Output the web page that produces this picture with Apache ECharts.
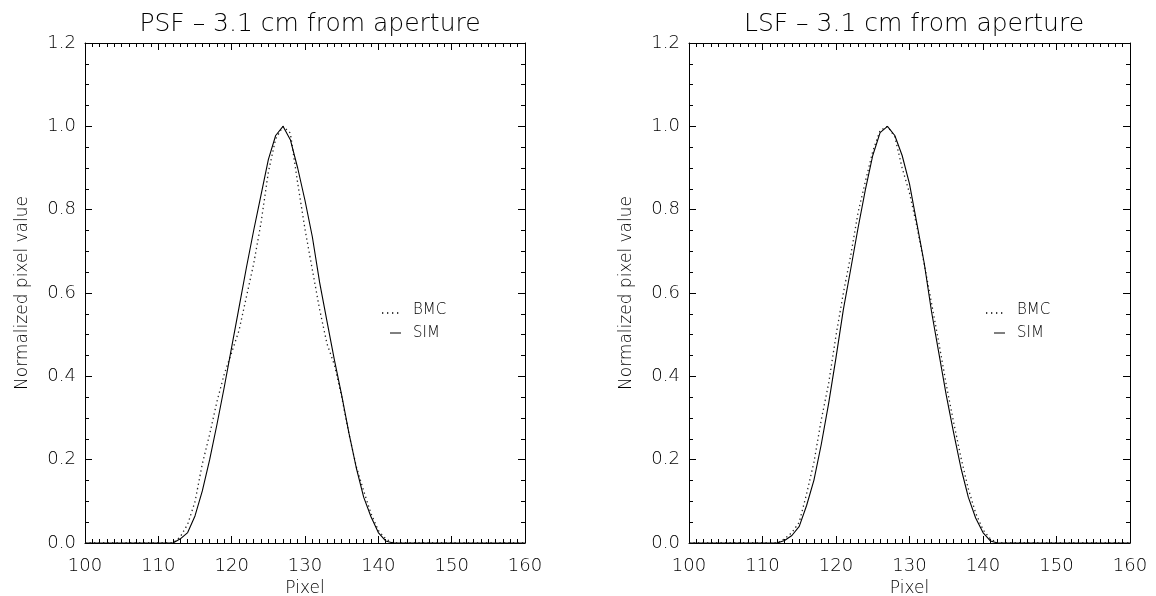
<!DOCTYPE html>
<html>
<head>
<meta charset="utf-8">
<script src="https://cdn.jsdelivr.net/npm/echarts@6/dist/echarts.min.js"></script>
<style>
  html, body { margin: 0; padding: 0; background: #fff; }
  #chart_container { width: 1156px; height: 596px; }
</style>
</head>
<body>
<div id="chart_container"></div>
<script>
"use strict";

// values
const pixels = [100, 111, 112, 113, 114, 115, 116, 117, 118, 119, 120, 121, 122, 123, 124, 125, 126,
    127, 128, 129, 130, 131, 132, 133, 134, 135, 136, 137, 138, 139, 140, 141, 142, 160];

const psfSim = [0, 0, 0, 0.01, 0.025, 0.065, 0.125, 0.2, 0.285, 0.375, 0.47, 0.565, 0.66, 0.75, 0.835, 0.92, 0.978,
    1.0, 0.968, 0.9, 0.822, 0.735, 0.625, 0.532, 0.44, 0.355, 0.263, 0.18, 0.11, 0.063, 0.025, 0.005, 0, 0];
const psfBmc = [0, 0, 0, 0.015, 0.045, 0.099, 0.19, 0.261, 0.34, 0.406, 0.457, 0.51, 0.59, 0.67, 0.768, 0.89, 0.97,
    1.0, 0.984, 0.864, 0.753, 0.656, 0.56, 0.478, 0.428, 0.351, 0.261, 0.183, 0.125, 0.071, 0.03, 0.01, 0, 0];

const lsfSim = [0, 0, 0, 0.006, 0.018, 0.04, 0.09, 0.151, 0.237, 0.335, 0.445, 0.56, 0.657, 0.756, 0.848, 0.93, 0.985,
    1.0, 0.978, 0.93, 0.862, 0.767, 0.672, 0.555, 0.455, 0.355, 0.265, 0.18, 0.11, 0.06, 0.025, 0.005, 0, 0];
const lsfBmc = [0, 0, 0, 0.01, 0.025, 0.05, 0.118, 0.194, 0.296, 0.383, 0.498, 0.6, 0.69, 0.793, 0.868, 0.94, 0.99,
    1.0, 0.975, 0.9, 0.84, 0.76, 0.67, 0.575, 0.48, 0.38, 0.29, 0.205, 0.13, 0.072, 0.032, 0.01, 0, 0];

const titles = ["PSF \u2013 3.1 cm from aperture", "LSF \u2013 3.1 cm from aperture"];
const legendNames = ["BMC", "SIM"];

const FONT = "DejaVu Sans";
const INK = "#000";

let pts = (ys) => pixels.map((x, i) => [x, ys[i]]);

let xAx = (g, pos) => ({
    gridIndex: g, type: "value", position: pos, min: 100, max: 160, interval: 10,
    axisLine: { show: true, onZero: false, lineStyle: { color: INK, width: 1 } },
    axisTick: { show: true, inside: true, length: 7, lineStyle: { color: INK } },
    minorTick: { show: true, splitNumber: 10, length: 4, lineStyle: { color: INK } },
    splitLine: { show: false },
    axisLabel: { show: pos == "bottom", margin: 14, color: INK, fontFamily: FONT, fontWeight: 200, fontSize: 18 },
    name: pos == "bottom" ? "Pixel" : "", nameLocation: "middle", nameGap: 37,
    nameTextStyle: { color: INK, fontFamily: FONT, fontWeight: 200, fontSize: 17 }
});

let yAx = (g, pos) => ({
    gridIndex: g, type: "value", position: pos, min: 0, max: 1.2, interval: 0.2,
    axisLine: { show: true, onZero: false, lineStyle: { color: INK, width: 1 } },
    axisTick: { show: true, inside: true, length: 7, lineStyle: { color: INK } },
    minorTick: { show: true, splitNumber: 4, length: 4, lineStyle: { color: INK } },
    splitLine: { show: false },
    axisLabel: { show: pos == "left", margin: 9, color: INK, fontFamily: FONT, fontWeight: 200, fontSize: 18,
        formatter: (v) => v.toFixed(1) },
    name: pos == "left" ? "Normalized pixel value" : "", nameLocation: "middle", nameGap: 54,
    nameTextStyle: { color: INK, fontFamily: FONT, fontWeight: 200, fontSize: 17 }
});

let legendBits = (x0) => [
    { type: "line", shape: { x1: x0 - 31, y1: 313, x2: x0 - 11, y2: 313 },
      style: { stroke: INK, lineWidth: 1.3, lineDash: [1.3, 3.7] } },
    { type: "text", x: x0, y: 310, style: { text: legendNames[0], fill: INK, font: `200 15px "${FONT}"`, verticalAlign: "middle" } },
    { type: "line", shape: { x1: x0 - 23, y1: 333, x2: x0 - 12, y2: 333 }, style: { stroke: INK, lineWidth: 1 } },
    { type: "text", x: x0, y: 333, style: { text: legendNames[1], fill: INK, font: `200 15px "${FONT}"`, verticalAlign: "middle" } }
];

let lineSeries = (name, g, ys, dotted) => ({
    name: name, type: "line", xAxisIndex: g * 2, yAxisIndex: g * 2, data: pts(ys),
    showSymbol: false, symbol: "none", animation: false, z: dotted ? 3 : 4,
    lineStyle: dotted ? { color: "#222", width: 1.3, type: [1.3, 3.2] } : { color: INK, width: 1.1 }
});

let optEchart = {
    backgroundColor: "#fff",
    animation: false,
    title: [
        { text: titles[0], left: 305, top: 7, textAlign: "center",
          textStyle: { color: INK, fontFamily: FONT, fontWeight: 200, fontSize: 25 } },
        { text: titles[1], left: 909, top: 7, textAlign: "center",
          textStyle: { color: INK, fontFamily: FONT, fontWeight: 200, fontSize: 25 } }
    ],
    grid: [
        { left: 85, right: 631, top: 43, bottom: 53, containLabel: false, outerBoundsMode: "none" },
        { left: 689, right: 26, top: 43, bottom: 53, containLabel: false, outerBoundsMode: "none" }
    ],
    xAxis: [xAx(0, "bottom"), xAx(0, "top"), xAx(1, "bottom"), xAx(1, "top")],
    yAxis: [yAx(0, "left"), yAx(0, "right"), yAx(1, "left"), yAx(1, "right")],
    series: [
        lineSeries("BMC", 0, psfBmc, true),
        lineSeries("SIM", 0, psfSim, false),
        lineSeries("BMC", 1, lsfBmc, true),
        lineSeries("SIM", 1, lsfSim, false)
    ],
    graphic: [...legendBits(413), ...legendBits(1017)]
};

let pageLoaded = () => {
    let chartDom = document.getElementById("chart_container");
    let myChart = echarts.init(chartDom, null, { renderer: "canvas" });
    optEchart && myChart.setOption(optEchart);
    console.log(`pageLoaded() complete`);
};

window.addEventListener("load", pageLoaded, false);
</script>
</body>
</html>
